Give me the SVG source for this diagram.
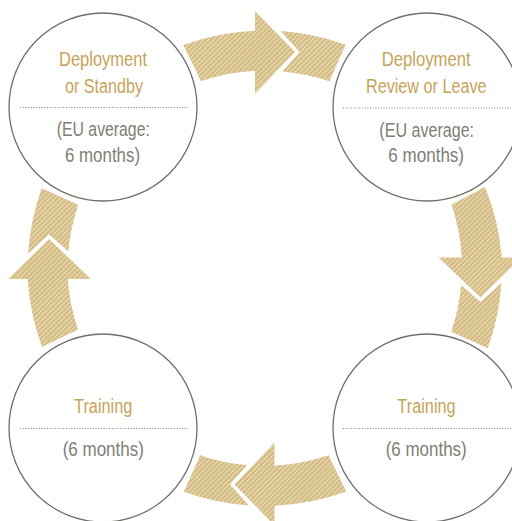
<svg xmlns="http://www.w3.org/2000/svg" width="512" height="521" viewBox="0 0 512 521">
  <defs>
    <pattern id="hatch" patternUnits="userSpaceOnUse" width="3.5" height="3.5" patternTransform="rotate(45)">
      <rect width="3.5" height="3.5" fill="#d4bb82"/>
      <rect width="1.1" height="3.5" fill="#ebdfbd"/>
    </pattern>
  </defs>
  <style>
    .node circle { fill: #ffffff; stroke: #6f6f69; stroke-width: 1.3; }
    .sep { stroke: #7e7e76; stroke-width: 1; stroke-dasharray: 1 1.7; fill: none; }
    .title { font-family: "Liberation Sans", Arial, sans-serif; font-size: 19.5px; fill: #c7a35a; text-anchor: middle; }
    .sub { font-family: "Liberation Sans", Arial, sans-serif; font-size: 19.5px; fill: #7e7e76; text-anchor: middle; }
    .band { fill: url(#hatch); stroke: none; }
  </style>

  <g id="connectors">
    <g id="arrow-top">
      <path class="band" d="M 183.3,45 A 237 237 0 0 1 255,30.7 L 255,11 L 295,52 L 255,94 L 255,70.8 A 197 197 0 0 0 201,81.2 Z"/>
      <path class="band" d="M 280.5,31.1 A 237 237 0 0 1 345.7,44.7 L 329.3,81.3 A 197 197 0 0 0 282.5,71.4 L 299.5,52 Z"/>
    </g>
    <g id="arrow-right">
      <path class="band" d="M 485,187 A 237 237 0 0 1 501.8,257.5 L 521.5,257.5 L 480.5,297.5 L 438.5,257.5 L 461.7,257.5 A 197 197 0 0 0 451.5,204.5 Z"/>
      <path class="band" d="M 501.4,283 A 237 237 0 0 1 487.8,348.2 L 451.2,331.8 A 197 197 0 0 0 461.1,285 L 480.5,302 Z"/>
    </g>
    <g id="arrow-bottom">
      <path class="band" d="M 346.2,491.5 A 237 237 0 0 1 274.5,505.8 L 274.5,525.5 L 234.5,484.5 L 274.5,442.5 L 274.5,465.7 A 197 197 0 0 0 328.5,455.3 Z"/>
      <path class="band" d="M 249,505.4 A 237 237 0 0 1 183.8,491.8 L 200.2,455.2 A 197 197 0 0 0 247,465.1 L 230,484.5 Z"/>
    </g>
    <g id="arrow-left">
      <path class="band" d="M 42,347 A 237 237 0 0 1 27.7,279 L 8,279 L 49,239 L 91,279 L 67.8,279 A 197 197 0 0 0 78,329.5 Z"/>
      <path class="band" d="M 28.1,253.5 A 237 237 0 0 1 41.7,188.3 L 78.3,204.7 A 197 197 0 0 0 68.4,251.5 L 49,234.5 Z"/>
    </g>
  </g>

  <g id="node-deployment" class="node">
    <circle cx="103" cy="107" r="94"/>
    <text class="title" x="103" y="66" textLength="88" lengthAdjust="spacingAndGlyphs">Deployment</text>
    <text class="title" x="104" y="92.5" textLength="78" lengthAdjust="spacingAndGlyphs">or Standby</text>
    <line class="sep" x1="20" y1="107.5" x2="188" y2="107.5"/>
    <text class="sub" x="103.3" y="136" textLength="93" lengthAdjust="spacingAndGlyphs">(EU average:</text>
    <text class="sub" x="102.5" y="162" textLength="75" lengthAdjust="spacingAndGlyphs">6 months)</text>
  </g>

  <g id="node-review" class="node">
    <circle cx="427" cy="107" r="94"/>
    <text class="title" x="426.2" y="66" textLength="89" lengthAdjust="spacingAndGlyphs">Deployment</text>
    <text class="title" x="426.3" y="92.7" textLength="120.7" lengthAdjust="spacingAndGlyphs">Review or Leave</text>
    <line class="sep" x1="343" y1="108" x2="511" y2="108"/>
    <text class="sub" x="426.7" y="136.7" textLength="94.7" lengthAdjust="spacingAndGlyphs">(EU average:</text>
    <text class="sub" x="426.2" y="162" textLength="75.7" lengthAdjust="spacingAndGlyphs">6 months)</text>
  </g>

  <g id="node-training-left" class="node">
    <circle cx="103" cy="428" r="94"/>
    <text class="title" x="103.2" y="413.3" textLength="58.3" lengthAdjust="spacingAndGlyphs">Training</text>
    <line class="sep" x1="20" y1="428.5" x2="188" y2="428.5"/>
    <text class="sub" x="103.3" y="456" textLength="81.3" lengthAdjust="spacingAndGlyphs">(6 months)</text>
  </g>

  <g id="node-training-right" class="node">
    <circle cx="427" cy="428" r="94"/>
    <text class="title" x="426.5" y="413.3" textLength="58.3" lengthAdjust="spacingAndGlyphs">Training</text>
    <line class="sep" x1="343" y1="428.5" x2="511" y2="428.5"/>
    <text class="sub" x="426.2" y="456" textLength="81" lengthAdjust="spacingAndGlyphs">(6 months)</text>
  </g>
</svg>
